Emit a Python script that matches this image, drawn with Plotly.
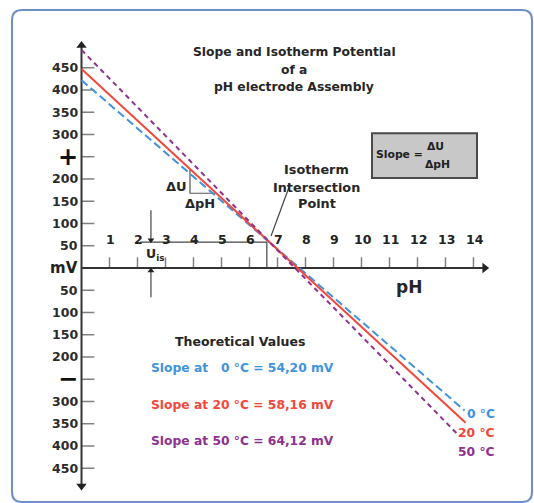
import plotly.graph_objects as go

# ---------------- data ----------------
ph_ticks = list(range(1, 15))
mv_tick_values = [450, 400, 350, 300, 250, 200, 150, 100, 50, 0,
                  -50, -100, -150, -200, -250, -300, -350, -400, -450]
mv_tick_labels = ["450", "400", "350", "300", "+", "200", "150", "100", "50", "mV",
                  "50", "100", "150", "200", "\u2212", "300", "350", "400", "450"]

temp_labels = ["0 °C", "20 °C", "50 °C"]
slope_texts = ["Slope at \u20070 °C = 54,20 mV",
               "Slope at 20 °C = 58,16 mV",
               "Slope at 50 °C = 64,12 mV"]
line_ph_start = [0.0, 0.0, 0.0]
line_ph_end = [13.68, 13.72, 13.5]
line_mv_start = [422, 447, 490]
line_mv_end = [-320, -348, -378]
line_colors = ["#3f93dc", "#f2483a", "#8e318f"]
line_dash = ["8px,4px", "solid", "5px,4px"]

iso_ph = 6.62      # isotherm intersection point
iso_mv = 60
uis_ph = 2.48      # position of the U_is marker

# ---------------- geometry of the canvas ----------------
W, H = 534, 503
X_RANGE = [-2.911, 16.161]
Y_RANGE = [-528.1, 602.2]

FONT = "DejaVu Sans, Verdana, Arial, sans-serif"
TXT = "#262626"

fig = go.Figure()

# rounded frame (paper coordinates)
def pp(px, py):
    return f"{px / W:.5f},{1 - py / H:.5f}"

x0, y0, x1, y1, r = 12, 10, 532, 502, 10
path = (f"M {pp(x0 + r, y0)} L {pp(x1 - r, y0)} Q {pp(x1, y0)} {pp(x1, y0 + r)} "
        f"L {pp(x1, y1 - r)} Q {pp(x1, y1)} {pp(x1 - r, y1)} "
        f"L {pp(x0 + r, y1)} Q {pp(x0, y1)} {pp(x0, y1 - r)} "
        f"L {pp(x0, y0 + r)} Q {pp(x0, y0)} {pp(x0 + r, y0)} Z")
shapes = [dict(type="path", path=path, xref="paper", yref="paper",
               line=dict(color="#6f8fc8", width=2), fillcolor="white", layer="below")]

# slope box
shapes.append(dict(type="rect", xref="x", yref="y", x0=10.375, x1=14.125, y0=202, y1=303,
                   line=dict(color="#4a4a4a", width=2), fillcolor="#c8c8c8", layer="below"))

# y-axis tick marks
tx, ty = [], []
for v in mv_tick_values:
    if v == 0:
        continue
    tx += [0, 0.46, None]
    ty += [v, v, None]
fig.add_trace(go.Scatter(x=tx, y=ty, mode="lines", line=dict(color="#808080", width=1.5),
                         hoverinfo="skip", showlegend=False))
# x-axis tick marks
tx, ty = [], []
for p in ph_ticks:
    tx += [p, p, None]
    ty += [0, 24, None]
fig.add_trace(go.Scatter(x=tx, y=ty, mode="lines", line=dict(color="#808080", width=1.5),
                         hoverinfo="skip", showlegend=False))

# axes lines
fig.add_trace(go.Scatter(x=[0, 0], y=[-490, 500], mode="lines",
                         line=dict(color="#333333", width=2), hoverinfo="skip", showlegend=False))
fig.add_trace(go.Scatter(x=[0, 14.35], y=[0, 0], mode="lines",
                         line=dict(color="#333333", width=2), hoverinfo="skip", showlegend=False))
# arrow heads
fig.add_trace(go.Scatter(x=[0, 0, 14.4], y=[500, -490, 0], mode="markers",
                         marker=dict(symbol=["triangle-up", "triangle-down", "triangle-right"],
                                     size=9, color="#222222"),
                         hoverinfo="skip", showlegend=False))

# helper lines: isotherm potential
fig.add_trace(go.Scatter(x=[2.1, iso_ph, iso_ph], y=[iso_mv - 2, iso_mv - 2, 0], mode="lines",
                         line=dict(color="#444444", width=1.2), hoverinfo="skip", showlegend=False))
fig.add_trace(go.Scatter(x=[uis_ph, uis_ph, None, uis_ph, uis_ph], y=[130, 62, None, -66, -4],
                         mode="lines", line=dict(color="#444444", width=1.2),
                         hoverinfo="skip", showlegend=False))
fig.add_trace(go.Scatter(x=[uis_ph, uis_ph], y=[63, -6], mode="markers",
                         marker=dict(symbol=["triangle-down", "triangle-up"], size=6, color="#222222"),
                         hoverinfo="skip", showlegend=False))
# pointer to intersection point
fig.add_trace(go.Scatter(x=[7.45, 6.77], y=[188, 72], mode="lines",
                         line=dict(color="#444444", width=1.2), hoverinfo="skip", showlegend=False))
# slope triangle
fig.add_trace(go.Scatter(x=[3.875, 3.875, 4.78], y=[222, 168, 168], mode="lines",
                         line=dict(color="#555555", width=1.2), hoverinfo="skip", showlegend=False))

# electrode lines
for i in range(3):
    fig.add_trace(go.Scatter(x=[line_ph_start[i], line_ph_end[i]],
                             y=[line_mv_start[i], line_mv_end[i]],
                             mode="lines",
                             line=dict(color=line_colors[i], width=2, dash=line_dash[i]),
                             hoverinfo="skip", showlegend=False))

ann = []
def A(x, y, text, size=12, color=TXT, xanchor="center", **kw):
    ann.append(dict(x=x, y=y, xref="x", yref="y", text=text, showarrow=False,
                    xanchor=xanchor, yanchor="middle",
                    font=dict(family=FONT, size=size, color=color), **kw))

# y tick labels
for v, lab in zip(mv_tick_values, mv_tick_labels):
    if lab in ("+", "\u2212"):
        A(-0.5, v, f"<b>{lab}</b>", size=24, color="#111111")
    elif lab == "mV":
        A(-0.06, v, f"<b>{lab}</b>", size=15, color="#222222", xanchor="right")
    else:
        A(-0.06, v, f"<b>{lab}</b>", size=12.5, color="#2b2b2b", xanchor="right")
# x tick labels
for p in ph_ticks:
    A(p + 0.05, 63, f"<b>{p}</b>", size=12.5, color="#222222")

A(11.7, -43, "<b>pH</b>", size=17)

# title
A(7.59, 485, "<b>Slope and Isotherm Potential</b>", size=12.3)
A(7.59, 445, "<b>of a</b>", size=12.3)
A(7.59, 407, "<b>pH electrode Assembly</b>", size=12.3)

# isotherm label
A(8.41, 222, "<b>Isotherm</b>", size=12.8)
A(8.41, 182, "<b>Intersection</b>", size=12.8)
A(8.41, 144, "<b>Point</b>", size=12.8)

# slope box text
A(11.36, 254, "<b>Slope =</b>", size=10.8, color="#222222")
A(12.63, 273, "<b>\u0394U</b>", size=10.8, color="#222222")
A(12.73, 232, "<b>\u0394pH</b>", size=10.8, color="#222222")

# slope triangle labels
A(3.41, 184, "<b>\u0394U</b>", size=13)
A(4.23, 146, "<b>\u0394pH</b>", size=13)

# U_is
A(2.62, 30, "<b>U<sub>is</sub></b>", size=12.5)

# theoretical values
A(5.66, -166, "<b>Theoretical Values</b>", size=12.5)
for i, y in enumerate([-225, -308, -389]):
    A(2.41, y, f"<b>{slope_texts[i]}</b>", size=12.3, color=line_colors[i], xanchor="left")
for i, y in enumerate([-328, -371, -414]):
    A(14.84, y, f"<b>{temp_labels[i]}</b>", size=12.3, color=line_colors[i], xanchor="right")

fig.update_layout(
    width=W, height=H,
    margin=dict(l=0, r=0, t=0, b=0),
    paper_bgcolor="white", plot_bgcolor="rgba(0,0,0,0)",
    xaxis=dict(range=X_RANGE, visible=False, fixedrange=True),
    yaxis=dict(range=Y_RANGE, visible=False, fixedrange=True),
    shapes=shapes, annotations=ann, showlegend=False,
)

fig.write_html("out.html",
               config={"displayModeBar": False},
               post_script="document.body.style.margin='0';document.body.style.overflow='hidden';")
